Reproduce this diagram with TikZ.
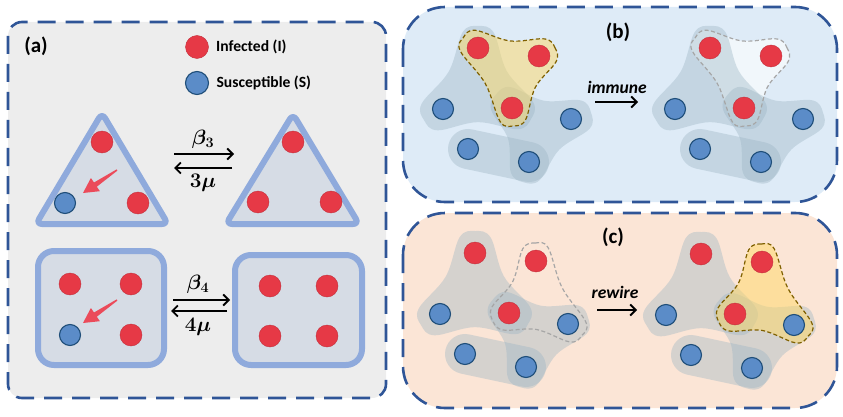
\documentclass[tikz,border=0pt]{standalone}
\usepackage{fontspec}
\setmainfont{Carlito}
\usetikzlibrary{calc,positioning,arrows.meta}

\definecolor{infred}{HTML}{E63946}
\definecolor{susblue}{HTML}{5B8CC8}
\definecolor{susedge}{HTML}{1F4E79}
\definecolor{paneledge}{HTML}{2F5597}
\definecolor{panelgray}{HTML}{EDEDED}
\definecolor{panelblue}{HTML}{DEEBF7}
\definecolor{panelpeach}{HTML}{FBE5D6}
\definecolor{motifedge}{HTML}{8FAADC}
\definecolor{motiffill}{HTML}{D6DCE5}
\definecolor{blobcol}{HTML}{9DB6C4}
\definecolor{hyperyellow}{HTML}{FFD966}
\definecolor{hyperline}{HTML}{7F6000}
\definecolor{arrowred}{HTML}{EB4B5A}

\pgfdeclarelayer{back}
\pgfdeclarelayer{mid}
\pgfsetlayers{back,mid,main}

\tikzset{
  inf/.style={circle,fill=infred,draw=infred!85!black,line width=.4pt,minimum size=22pt,inner sep=0pt},
  sus/.style={circle,fill=susblue,draw=susedge,line width=1.1pt,minimum size=21pt,inner sep=0pt},
  panel/.style={draw=paneledge,line width=2.6pt,dash pattern=on 18pt off 10pt},
  motif/.style={draw=motifedge,fill=motiffill,line width=6pt,line join=round,rounded corners=6pt},
  rate/.style={line width=1.8pt,-{Straight Barb[length=5.5pt,width=11pt]}},
  tag/.style={font=\bfseries\fontsize{21}{24}\selectfont},
  legtext/.style={font=\bfseries\fontsize{15.6}{18}\selectfont,anchor=west},
  ratetext/.style={font=\boldmath\fontsize{20}{24}\selectfont},
  acttext/.style={font=\bfseries\itshape\fontsize{17.5}{20}\selectfont},
  blob/.style={fill=blobcol,fill opacity=.4},
  hypline/.style={line width=1.2pt,dash pattern=on 4pt off 2.5pt},
  yellowedge/.style={hypline,draw=hyperline,fill=hyperyellow,fill opacity=.5},
  whitefill/.style={fill=white,fill opacity=.6},
  grayline/.style={hypline,draw=gray!70}
}

% hyperedge round three nodes (given counterclockwise)
\newcommand\hedge[5][]{%
  \coordinate (hc) at ($(#2)!0.5!(#3)!0.333!(#4)$);
  \coordinate (h1) at ($(#2)!-#5!-45:(hc)$);
  \coordinate (h2) at ($(#2)!-#5!(hc)$);
  \coordinate (h3) at ($(#2)!-#5!45:(hc)$);
  \coordinate (h4) at ($(#2)!0.5!(#3)!0.62*#5!-90:(#3)$);
  \coordinate (h5) at ($(#3)!-#5!-45:(hc)$);
  \coordinate (h6) at ($(#3)!-#5!(hc)$);
  \coordinate (h7) at ($(#3)!-#5!45:(hc)$);
  \coordinate (h8) at ($(#3)!0.5!(#4)!0.62*#5!-90:(#4)$);
  \coordinate (h9) at ($(#4)!-#5!-45:(hc)$);
  \coordinate (h10) at ($(#4)!-#5!(hc)$);
  \coordinate (h11) at ($(#4)!-#5!45:(hc)$);
  \coordinate (h12) at ($(#4)!0.5!(#2)!0.62*#5!-90:(#2)$);
  \path[#1] plot[smooth cycle,tension=.6] coordinates {(h1) (h2) (h3) (h4) (h5) (h6) (h7) (h8) (h9) (h10) (h11) (h12)};
}

% seven nodes of one small network
\newcommand\hypnet[2]{%
  \begin{scope}[shift={(#2)}]
    \node[inf] (#1C) at (0,0) {};
    \node[inf] (#1A) at (-34,-60) {};
    \node[inf] (#1B) at (27,-52) {};
    \node[sus] (#1D) at (-69,1) {};
    \node[sus] (#1E) at (59,11) {};
    \node[sus] (#1F) at (-44,41) {};
    \node[sus] (#1G) at (17,54) {};
  \end{scope}
}

% its three grey hyperedges
\newcommand\hypblobs[1]{%
  \hedge[blob]{#1A}{#1D}{#1C}{22pt}
  \hedge[blob]{#1E}{#1C}{#1G}{21pt}
  \draw[blobcol,draw opacity=.4,line width=40pt,line cap=round] (#1F.center) -- (#1G.center);
}

\newcommand\infarrow[1]{%
  \fill[arrowred,shift={(#1)}] (-0.4,-0.6) -- (-23,12.5) -- (-26.1,8) -- (-34,23)
    -- (-17.1,21.2) -- (-20.2,16.7) -- (0.4,0.6) -- cycle;
}

\begin{document}
\begin{tikzpicture}[x=1pt,y=-1pt]
  \useasboundingbox (0,0) rectangle (843,417);

  \begin{pgfonlayer}{back}
    \draw[panel,fill=panelgray,rounded corners=14pt] (8,22) rectangle (386,398);
    \draw[panel,fill=panelblue,rounded corners=42pt] (403,7) rectangle (837,202);
    \draw[panel,fill=panelpeach,rounded corners=42pt] (403,213) rectangle (837,408);
  \end{pgfonlayer}

  % (a)
  \node[tag] (taga) at (36,46) {(a)};
  \node[inf,minimum size=23pt] (leginf) at (197,47) {};
  \node[legtext,right=4pt of leginf] (leginftext) {Infected (I)};
  \node[sus,minimum size=23pt] (legsus) at (197,83) {};
  \node[legtext,right=4pt of legsus] (legsustext) {Susceptible (S)};

  \draw[motif] (102,113) -- (36,224) -- (168,224) -- cycle;
  \draw[motif] (293,114) -- (226,224) -- (359,224) -- cycle;
  \draw[motif,rounded corners=16pt] (38,251) rectangle (164,365);
  \draw[motif,rounded corners=16pt] (235,255) rectangle (362,365);

  \node[inf] (t1a) at (102,142) {};
  \node[sus] (t1b) at (65,203) {};
  \node[inf] (t1c) at (138,203) {};
  \node[inf] (t2a) at (293,142) {};
  \node[inf] (t2b) at (258,202) {};
  \node[inf] (t2c) at (331,202) {};
  \infarrow{117,170}

  \node[inf] (s1a) at (70,284) {};
  \node[inf] (s1b) at (131,284) {};
  \node[sus] (s1c) at (70,335) {};
  \node[inf] (s1d) at (131,335) {};
  \node[inf] (s2a) at (270,286) {};
  \node[inf] (s2b) at (327,286) {};
  \node[inf] (s2c) at (270,336) {};
  \node[inf] (s2d) at (327,336) {};
  \infarrow{117,300}

  \coordinate (r3a) at (174,154);
  \coordinate (r3b) at (234,154);
  \coordinate (r3c) at (232,168);
  \coordinate (r3d) at (174,168);
  \draw[rate] (r3a) -- (r3b);
  \draw[rate] (r3c) -- (r3d);
  \node[ratetext] (beta3) at (203,139) {$\beta_3$};
  \node[ratetext] (mu3) at (203,183) {$3\mu$};

  \coordinate (r4a) at (173,300);
  \coordinate (r4b) at (230,300);
  \coordinate (r4c) at (227,311);
  \coordinate (r4d) at (171,311);
  \draw[rate] (r4a) -- (r4b);
  \draw[rate] (r4c) -- (r4d);
  \node[ratetext] (beta4) at (198,284) {$\beta_4$};
  \node[ratetext] (mu4) at (198,327) {$4\mu$};

  % (b)
  \node[tag] (tagb) at (618,32) {(b)};
  \hypnet{bl}{512,108}
  \hypnet{br}{744,108}
  \begin{pgfonlayer}{mid}
    \hedge[whitefill]{brB}{brA}{brC}{18pt}
    \hypblobs{bl}
    \hypblobs{br}
    \hedge[yellowedge]{blB}{blA}{blC}{18pt}
    \hedge[grayline]{brB}{brA}{brC}{18pt}
  \end{pgfonlayer}
  \node[acttext] (immune) at (617,87) {immune};
  \coordinate (imm0) at (595,102);
  \coordinate (imm1) at (638,102);
  \draw[rate] (imm0) -- (imm1);

  % (c)
  \node[tag] (tagc) at (613,237) {(c)};
  \hypnet{cl}{509,313}
  \hypnet{cr}{735,314}
  \begin{pgfonlayer}{mid}
    \hypblobs{cl}
    \hypblobs{cr}
    \hedge[grayline]{clB}{clC}{clE}{18pt}
    \hedge[yellowedge]{crB}{crC}{crE}{18pt}
  \end{pgfonlayer}
  \node[acttext] (rewire) at (615,292) {rewire};
  \coordinate (rew0) at (597,310);
  \coordinate (rew1) at (637,310);
  \draw[rate] (rew0) -- (rew1);
\end{tikzpicture}
\end{document}
